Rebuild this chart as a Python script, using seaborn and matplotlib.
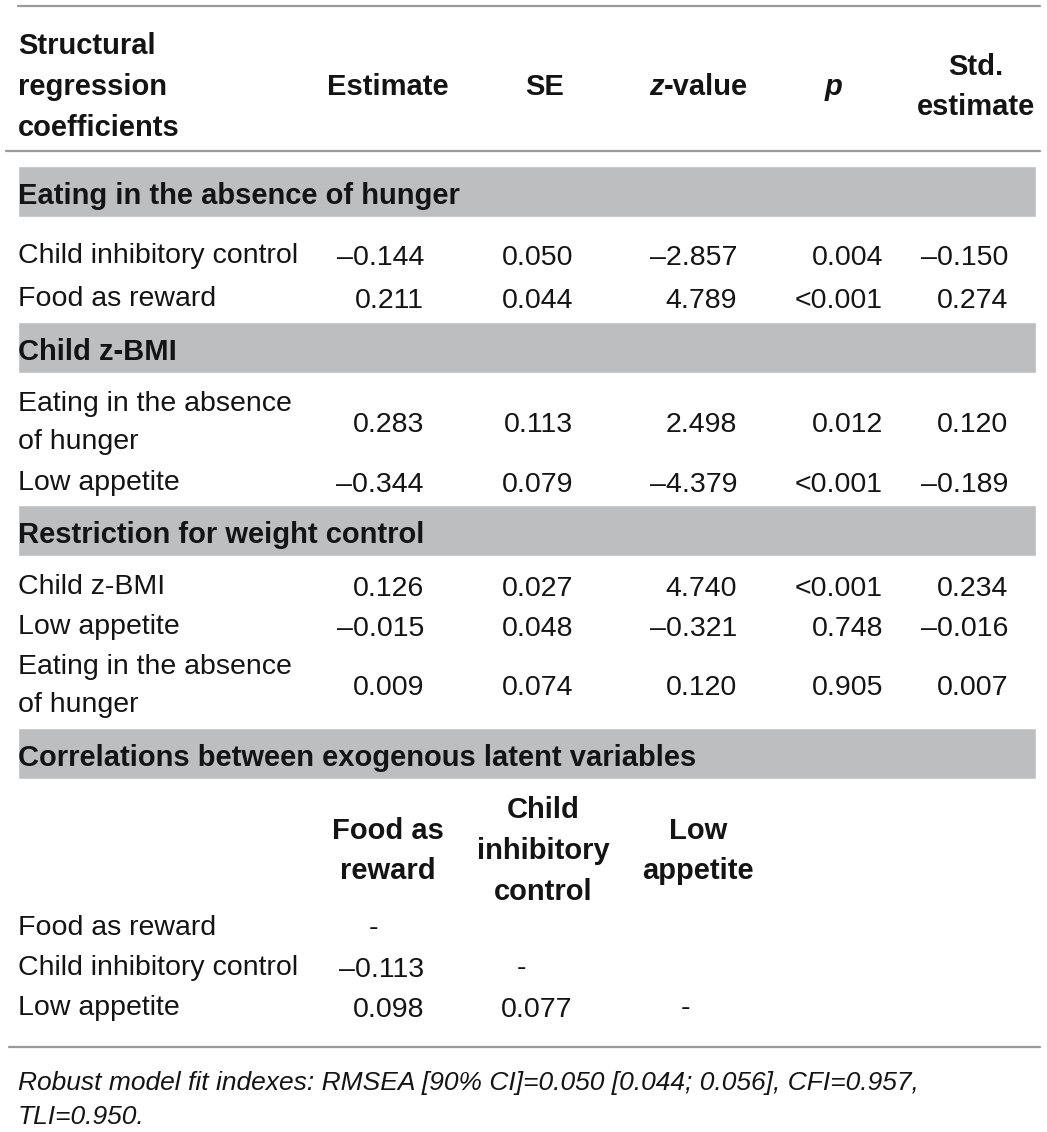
import matplotlib
matplotlib.use("Agg")
import matplotlib.pyplot as plt
import seaborn as sns

sns.set_theme(style="white")
plt.rcParams['font.family'] = ['Liberation Sans', 'DejaVu Sans']

# header of the regression part
col_headers = ["Estimate", "SE", "z-value", "p", "Std.\nestimate"]

# regression rows
section_titles = ["Eating in the absence of hunger", "Child z-BMI",
                  "Restriction for weight control"]
row_section = [0, 0, 1, 1, 2, 2, 2]
row_labels = ["Child inhibitory control", "Food as reward",
              "Eating in the absence\nof hunger", "Low appetite",
              "Child z-BMI", "Low appetite",
              "Eating in the absence\nof hunger"]
estimate = [-0.144, 0.211, 0.283, -0.344, 0.126, -0.015, 0.009]
se = [0.050, 0.044, 0.113, 0.079, 0.027, 0.048, 0.074]
z_value = [-2.857, 4.789, 2.498, -4.379, 4.740, -0.321, 0.120]
p_value = ["0.004", "<0.001", "0.012", "<0.001", "<0.001", "0.748", "0.905"]
std_estimate = [-0.150, 0.274, 0.120, -0.189, 0.234, -0.016, 0.007]

# correlations part
corr_title = "Correlations between exogenous latent variables"
corr_vars = ["Food as reward", "Child inhibitory control", "Low appetite"]
corr_headers = ["Food as\nreward", "Child\ninhibitory\ncontrol", "Low\nappetite"]
corr_values = [[None, None, None],
               [-0.113, None, None],
               [0.098, 0.077, None]]

footnote = ("Robust model fit indexes: RMSEA [90% CI]=0.050 [0.044; 0.056], "
            "CFI=0.957,\nTLI=0.950.")


def fmt(v):
    s = f"{abs(v):.3f}"
    return ("\u2013" + s) if v < 0 else s


FS = 20.5
FSB = 21
TXT = "#141414"
BAND = "#bdbec0"
LINE = "#9a9a9a"
LS = 1.6
LSB = 1.57

fig = plt.figure(figsize=(10.47, 11.32), dpi=100)
ax = fig.add_axes([0, 0, 1, 1])
ax.set_xlim(0, 1047)
ax.set_ylim(1132, 0)
ax.axis("off")

# layout (pixels)
col_right = [424, 573, 737, 883, 1008]
head_center = [388, 545, 699, 834, 976]
x_left = 18

ax.plot([18, 1040], [6, 6], color=LINE, lw=1.6)
ax.plot([6, 1040], [151, 151], color=LINE, lw=1.6)
ax.plot([9, 1040], [1047, 1047], color=LINE, lw=1.6)

# header
ax.text(x_left, 87, "Structural\nregression\ncoefficients", fontsize=FSB,
        fontweight="bold", va="center", ha="left", linespacing=LSB, color=TXT)
for i, h in enumerate(col_headers):
    if h == "z-value":
        ax.text(664, 87, "z", fontsize=FSB, fontweight="bold", style="italic",
                va="center", ha="right", color=TXT)
        ax.text(664, 87, "-value", fontsize=FSB, fontweight="bold",
                va="center", ha="left", color=TXT)
    elif h == "p":
        ax.text(head_center[i], 87, "p", fontsize=FSB, fontweight="bold",
                style="italic", va="center", ha="center", color=TXT)
    else:
        ax.text(head_center[i], 87, h, fontsize=FSB, fontweight="bold",
                va="center", ha="center", linespacing=LSB, color=TXT)

band_tops = [166, 322, 505, 728]
row_y = [256, 299, 423, 483, 587, 627, 686]

for k, title in enumerate(section_titles + [corr_title]):
    top = band_tops[k]
    ax.broken_barh([(18, 1018)], (top, 51), facecolors=BAND)
    ax.text(x_left, top + 30, title, fontsize=FSB, fontweight="bold",
            va="center", ha="left", color=TXT)

for r in range(len(row_labels)):
    y = row_y[r]
    ax.text(x_left, y, row_labels[r], fontsize=FS, va="center", ha="left",
            linespacing=LS, color=TXT)
    vals = [fmt(estimate[r]), fmt(se[r]), fmt(z_value[r]), p_value[r],
            fmt(std_estimate[r])]
    for c, v in enumerate(vals):
        ax.text(col_right[c], y + 2, v, fontsize=FS, va="center", ha="right",
                color=TXT)

# correlation header
corr_center = [388, 543, 698]
for c, h in enumerate(corr_headers):
    ax.text(corr_center[c], 851, h, fontsize=FSB, fontweight="bold",
            va="center", ha="center", linespacing=LSB, color=TXT)

corr_row_y = [928, 968, 1008]
corr_right = [424, 572, 736]
dash_x = [373, 522, 686]
for r, name in enumerate(corr_vars):
    y = corr_row_y[r]
    ax.text(x_left, y, name, fontsize=FS, va="center", ha="left", color=TXT)
    for c in range(3):
        v = corr_values[r][c]
        if c == r:
            ax.text(dash_x[c], y, "-", fontsize=FS, va="center", ha="center",
                    color=TXT)
        elif v is not None:
            ax.text(corr_right[c], y + 2, fmt(v), fontsize=FS, va="center",
                    ha="right", color=TXT)

ax.text(x_left, 1100, footnote, fontsize=19, style="italic", va="center",
        ha="left", linespacing=1.55, color=TXT)

fig.savefig("out.png", dpi=100)
